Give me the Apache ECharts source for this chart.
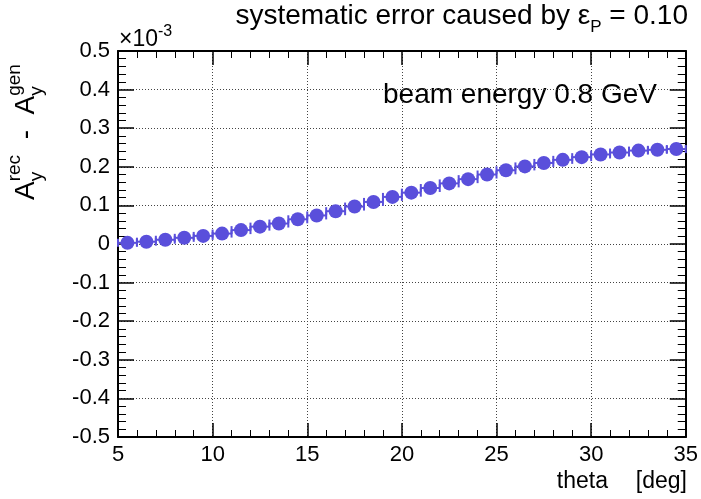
<!DOCTYPE html>
<html><head><meta charset="utf-8">
<script src="https://cdn.jsdelivr.net/npm/echarts@6/dist/echarts.min.js"></script>
<style>html,body{margin:0;padding:0;background:#fff}#c{width:701px;height:499px}</style>
</head><body><div id="c"></div>
<script>
// ---- data ----
const theta = [5.5, 6.5, 7.5, 8.5, 9.5, 10.5, 11.5, 12.5, 13.5, 14.5,
               15.5, 16.5, 17.5, 18.5, 19.5, 20.5, 21.5, 22.5, 23.5, 24.5,
               25.5, 26.5, 27.5, 28.5, 29.5, 30.5, 31.5, 32.5, 33.5, 34.5];
const asymDiff = [0.003, 0.006, 0.011, 0.016, 0.021, 0.027, 0.036, 0.045, 0.053, 0.064,
                  0.074, 0.085, 0.097, 0.109, 0.122, 0.133, 0.145, 0.157, 0.168, 0.180,
                  0.191, 0.201, 0.210, 0.218, 0.225, 0.232, 0.237, 0.242, 0.244, 0.246];
const thetaHalfBin = [0.5, 0.5, 0.5, 0.5, 0.5, 0.5, 0.5, 0.5, 0.5, 0.5,
                      0.5, 0.5, 0.5, 0.5, 0.5, 0.5, 0.5, 0.5, 0.5, 0.5,
                      0.5, 0.5, 0.5, 0.5, 0.5, 0.5, 0.5, 0.5, 0.5, 0.5];
const xRange = [5, 35];
const yRange = [-0.5, 0.5];
const titleMain = 'systematic error caused by \u03b5';
const titleSub = 'P';
const titleTail = ' = 0.10';
const labelText = 'beam energy 0.8 GeV';
const xTitle1 = 'theta';
const xTitle2 = '[deg]';

// ---- helpers ----
const FONT = 'Liberation Sans';
const COLOR = '#5a4fdb';
const mctx = document.createElement('canvas').getContext('2d');
function tw(s, size) { mctx.font = size + 'px "' + FONT + '"'; return mctx.measureText(s).width; }
function txt(x, baseline, s, size, align) {
  return { type: 'text', x: x, y: baseline - 0.3465 * size,
    style: { text: s, fontFamily: FONT, fontSize: size, fill: '#000',
             align: align || 'left', verticalAlign: 'middle' } };
}

const chart = echarts.init(document.getElementById('c'), null, { renderer: 'canvas' });

// title pieces (right aligned chain)
const tSize = 28, tSub = 17, tRight = 688, tBase = 26;
const wTail = tw(titleTail, tSize), wSub = tw(titleSub, tSub);
const graphics = [
  txt(tRight, tBase, titleTail, tSize, 'right'),
  txt(tRight - wTail, tBase + 7, titleSub, tSub, 'right'),
  txt(tRight - wTail - wSub, tBase, titleMain, tSize, 'right'),
  txt(383, 105, labelText, 28, 'left'),
  txt(119, 48, '\u00d710', 23, 'left'),
  txt(119 + tw('\u00d710', 23), 37, '-3', 16, 'left'),
  txt(608, 490, xTitle1, 23, 'right'),
  txt(687, 490, xTitle2, 23, 'right')
];

// y-axis title rotated
(function () {
  const big = 28, small = 19;
  const kids = [];
  let cx = 0;
  function addA(sup) {
    kids.push(txt(cx, 0, 'A', big, 'left'));
    cx += tw('A', big);
    kids.push(txt(cx, 7, 'y', small, 'left'));
    kids.push(txt(cx, -15, sup, small, 'left'));
    cx += Math.max(tw('y', small), tw(sup, small));
  }
  addA('rec');
  cx += tw('  ', big);
  kids.push(txt(cx, 0, '-', big, 'left'));
  cx += tw('-', big) + tw('  ', big);
  addA('gen');
  graphics.push({ type: 'group', x: 36, y: 200, rotation: Math.PI / 2, children: kids });
})();

const axisCommon = {
  type: 'value',
  axisLine: { show: true, onZero: false, lineStyle: { color: '#000', width: 2 } },
  axisTick: { show: true, inside: true, length: 14, lineStyle: { color: '#000', width: 1.5 } },
  minorTick: { show: true, splitNumber: 5, length: 7, lineStyle: { color: '#000', width: 1 } },
  splitLine: { show: false }
};

const option = {
  animation: false,
  backgroundColor: '#fff',
  grid: { left: 118, right: 15, top: 51, bottom: 62 },
  xAxis: [
    Object.assign({}, axisCommon, {
      min: xRange[0], max: xRange[1], interval: 5, position: 'bottom',
      axisLabel: { fontFamily: FONT, fontSize: 22, color: '#000', margin: 7 },
      splitLine: { show: true, lineStyle: { color: '#444', type: [1, 2], width: 1 } }
    }),
    Object.assign({}, axisCommon, {
      min: xRange[0], max: xRange[1], interval: 5, position: 'top',
      axisLabel: { show: false }
    })
  ],
  yAxis: [
    Object.assign({}, axisCommon, {
      min: yRange[0], max: yRange[1], interval: 0.1, position: 'left',
      axisTick: { show: true, inside: true, length: 16, lineStyle: { color: '#000', width: 1.5 } },
      minorTick: { show: true, splitNumber: 5, length: 8, lineStyle: { color: '#000', width: 1 } },
      axisLabel: { fontFamily: FONT, fontSize: 22, color: '#000', margin: 8,
        formatter: v => String(parseFloat(v.toFixed(2))) },
      splitLine: { show: true, lineStyle: { color: '#444', type: [1, 2], width: 1 } }
    }),
    Object.assign({}, axisCommon, {
      min: yRange[0], max: yRange[1], interval: 0.1, position: 'right',
      axisTick: { show: true, inside: true, length: 16, lineStyle: { color: '#000', width: 1.5 } },
      minorTick: { show: true, splitNumber: 5, length: 8, lineStyle: { color: '#000', width: 1 } },
      axisLabel: { show: false }
    })
  ],
  series: [
    {
      type: 'custom',
      xAxisIndex: 0, yAxisIndex: 0,
      data: theta.map((t, i) => [t, asymDiff[i], thetaHalfBin[i]]),
      renderItem: function (params, api) {
        const x = api.value(0), y = api.value(1), ex = api.value(2);
        const p1 = api.coord([x - ex, y]), p2 = api.coord([x + ex, y]);
        const cap = 4, st = { stroke: COLOR, lineWidth: 2 };
        return { type: 'group', children: [
          { type: 'line', shape: { x1: p1[0], y1: p1[1], x2: p2[0], y2: p2[1] }, style: st },
          { type: 'line', shape: { x1: p1[0], y1: p1[1] - cap, x2: p1[0], y2: p1[1] + cap }, style: st },
          { type: 'line', shape: { x1: p2[0], y1: p2[1] - cap, x2: p2[0], y2: p2[1] + cap }, style: st }
        ] };
      },
      z: 2
    },
    {
      type: 'scatter',
      xAxisIndex: 0, yAxisIndex: 0,
      data: theta.map((t, i) => [t, asymDiff[i]]),
      symbol: 'circle', symbolSize: 14,
      itemStyle: { color: COLOR, opacity: 1 },
      z: 3
    }
  ],
  graphic: graphics
};
chart.setOption(option);
</script>
</body></html>
